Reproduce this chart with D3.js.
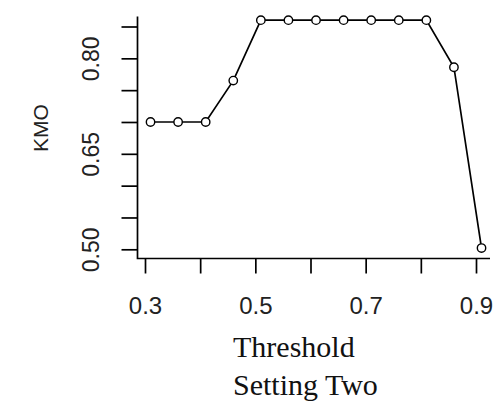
<!DOCTYPE html>
<html>
<head>
<meta charset="utf-8">
<script src="https://cdn.jsdelivr.net/npm/d3@7"></script>
<style>
  html, body { margin: 0; padding: 0; background: #fff; }
  svg { display: block; }
</style>
</head>
<body>
<svg id="chart" width="504" height="408"></svg>
<script>
// ---- data ----
const thresholds = [0.31, 0.36, 0.41, 0.46, 0.51, 0.56, 0.61, 0.66, 0.71, 0.76, 0.81, 0.86, 0.91];
const kmo        = [0.70, 0.70, 0.70, 0.765, 0.86, 0.86, 0.86, 0.86, 0.86, 0.86, 0.86, 0.786, 0.502];
const xTicks = [0.3, 0.4, 0.5, 0.6, 0.7, 0.8, 0.9];
const xTickLabels = ["0.3", "", "0.5", "", "0.7", "", "0.9"];
const yTicks = [0.50, 0.55, 0.60, 0.65, 0.70, 0.75, 0.80, 0.85];
const yTickLabels = ["0.50", "", "", "0.65", "", "", "0.80", ""];
const xTitleLines = ["Threshold", "Setting Two"];
const yTitle = "KMO";

// ---- layout ----
const svg = d3.select("#chart");
const x = d3.scaleLinear().domain([0.3, 0.9]).range([145, 476]);
const y = d3.scaleLinear().domain([0.5, 0.85]).range([249.3, 26.5]);
const frameLeft = 137.5, frameBottom = 258.5, frameTop = 16.5, frameRight = 490;

const sans = "'Liberation Sans', Arial, sans-serif";
const serif = "'Liberation Serif', 'Times New Roman', serif";

// frame (bty = "l")
svg.append("path")
  .attr("d", `M${frameLeft},${frameTop}V${frameBottom}H${frameRight}`)
  .attr("fill", "none").attr("stroke", "#000").attr("stroke-width", 1.7);

// x axis ticks
const xAxis = d3.axisBottom(x).tickValues(xTicks)
  .tickFormat((d, i) => xTickLabels[i]).tickSize(15).tickPadding(23);
const gx = svg.append("g").attr("transform", `translate(0,${frameBottom})`).call(xAxis);
gx.select(".domain").remove();
gx.selectAll(".tick line").attr("stroke", "#000").attr("stroke-width", 1.7);
gx.selectAll(".tick text").attr("font-family", sans).attr("font-size", 24)
  .attr("fill", "#222").attr("dy", "0.71em");

// y axis ticks
const yAxis = d3.axisLeft(y).tickValues(yTicks)
  .tickFormat((d, i) => yTickLabels[i]).tickSize(16).tickPadding(0);
const gy = svg.append("g").attr("transform", `translate(${frameLeft},0)`).call(yAxis);
gy.select(".domain").remove();
gy.selectAll(".tick line").attr("stroke", "#000").attr("stroke-width", 1.7);
gy.selectAll(".tick text")
  .attr("font-family", sans).attr("font-size", 23).attr("fill", "#222")
  .attr("x", null).attr("dy", null)
  .attr("text-anchor", "middle")
  .attr("transform", "translate(-39,0) rotate(-90)");

// y title
svg.append("text")
  .attr("transform", `translate(48,128) rotate(-90)`)
  .attr("text-anchor", "middle")
  .attr("font-family", sans).attr("font-size", 21).attr("fill", "#222")
  .text(yTitle);

// x title
const xt = svg.append("text")
  .attr("font-family", serif).attr("font-size", 30).attr("fill", "#111");
xTitleLines.forEach((t, i) => {
  xt.append("tspan").attr("x", 233).attr("y", 357 + i * 38).text(t);
});

// line
const pts = thresholds.map((t, i) => [t, kmo[i]]);
svg.append("path")
  .datum(pts)
  .attr("d", d3.line().x(d => x(d[0])).y(d => y(d[1])))
  .attr("fill", "none").attr("stroke", "#000").attr("stroke-width", 1.7);

// points
svg.selectAll("circle.pt").data(pts).enter().append("circle")
  .attr("class", "pt")
  .attr("cx", d => x(d[0])).attr("cy", d => y(d[1]))
  .attr("r", 4.2)
  .attr("fill", "#fff").attr("stroke", "#000").attr("stroke-width", 1.4);
</script>
</body>
</html>
